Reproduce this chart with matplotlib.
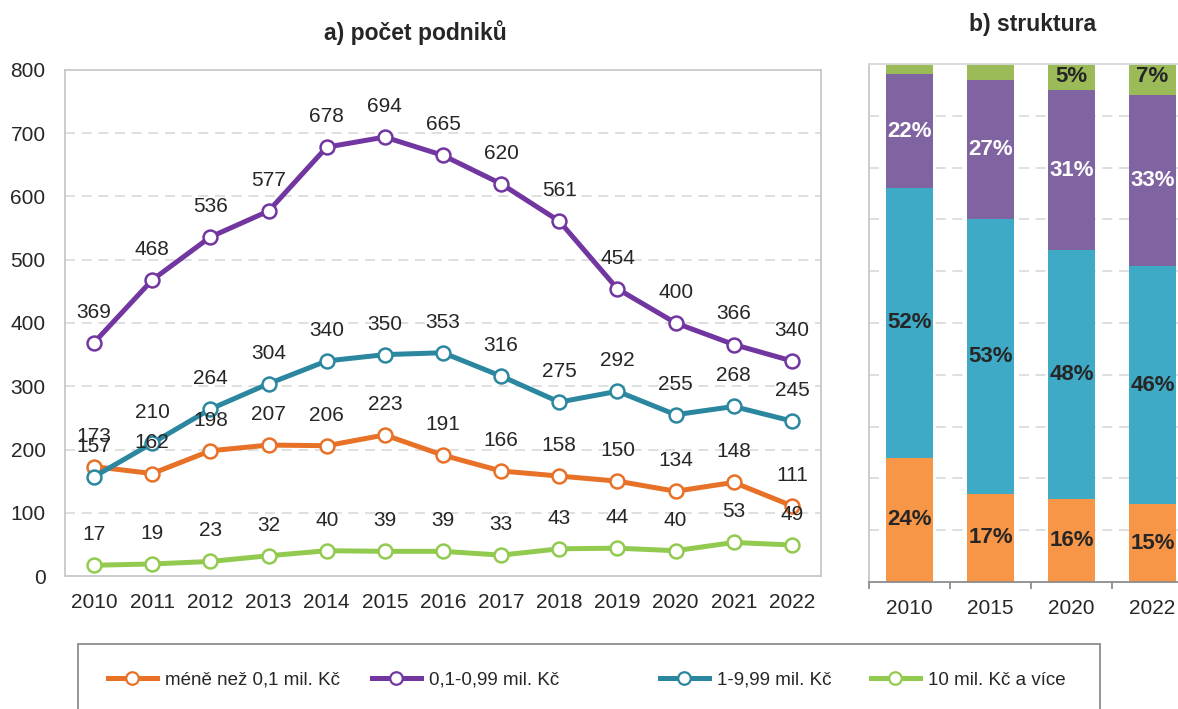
import matplotlib
matplotlib.use("Agg")
import matplotlib.pyplot as plt
from matplotlib.patches import Rectangle
from matplotlib.lines import Line2D

plt.rcParams['font.family'] = ['Liberation Sans', 'DejaVu Sans']

years = [2010, 2011, 2012, 2013, 2014, 2015, 2016, 2017, 2018, 2019, 2020, 2021, 2022]
series_names = ["méně než 0,1 mil. Kč", "0,1-0,99 mil. Kč", "1-9,99 mil. Kč", "10 mil. Kč a více"]
s_small = [173, 162, 198, 207, 206, 223, 191, 166, 158, 150, 134, 148, 111]
s_mid = [369, 468, 536, 577, 678, 694, 665, 620, 561, 454, 400, 366, 340]
s_big = [157, 210, 264, 304, 340, 350, 353, 316, 275, 292, 255, 268, 245]
s_large = [17, 19, 23, 32, 40, 39, 39, 33, 43, 44, 40, 53, 49]

struct_years = ["2010", "2015", "2020", "2022"]
p_small = [24, 17, 16, 15]
p_mid_low = [52, 53, 48, 46]
p_mid = [22, 27, 31, 33]
p_large = [2, 3, 5, 7]
p_labels_large = ["", "", "5%", "7%"]

line_colors = ["#E87128", "#7236A0", "#2B879F", "#92CA50"]
bar_colors = ["#F79646", "#3FAAC6", "#8064A2", "#9BBB59"]
txt = "#262626"

W, H = 1178, 709
fig = plt.figure(figsize=(W / 100, H / 100), dpi=100)

def fx(px):
    return px / W

def fy(py):
    return 1 - py / H

FS = 15

# ---- left panel
ax = fig.add_axes([fx(65), fy(576), fx(821) - fx(65), fy(70) - fy(576)])
x = list(range(len(years)))
for vals, c in zip([s_small, s_mid, s_big, s_large], line_colors):
    ax.plot(x, vals, color=c, lw=3.6, marker='o', ms=10, mfc='white', mec=c, mew=1.8, zorder=3)
    for xi, v in zip(x, vals):
        ax.annotate(str(v), (xi, v), xytext=(0, 22), textcoords='offset points',
                    ha='center', va='center', fontsize=FS, color=txt, zorder=4)
ax.set_xlim(-0.5, len(years) - 0.5)
ax.set_ylim(0, 800)
ax.set_yticks(range(0, 801, 100))
ax.set_xticks(x)
ax.set_xticklabels([str(y) for y in years])
ax.tick_params(axis='both', length=0, labelsize=FS, colors=txt)
ax.tick_params(axis='x', pad=12)
ax.tick_params(axis='y', pad=14)
for sp in ax.spines.values():
    sp.set_color('#C8C8CC')
    sp.set_linewidth(1.3)
for yv in range(100, 800, 100):
    ax.axhline(yv, color='#D9D9D9', lw=1.2, ls=(0, (6, 4)), zorder=1)
fig.text(fx(415), fy(33), "a) počet podniků", ha='center', va='center', fontsize=16.5,
         fontweight='bold', color=txt)

# ---- right panel
ax2 = fig.add_axes([fx(869), fy(582), fx(869 + 324) - fx(869), fy(64) - fy(582)])
xb = list(range(len(struct_years)))
bw = 0.59
bottoms = [0] * 4
segs = [p_small, p_mid_low, p_mid, p_large]
for i, (vals, c) in enumerate(zip(segs, bar_colors)):
    ax2.bar(xb, vals, bw, bottom=bottoms, color=c, zorder=2)
    for j, (b, v) in enumerate(zip(bottoms, vals)):
        lab = p_labels_large[j] if i == 3 else f"{v}%"
        if lab:
            col = 'white' if i == 2 else txt
            ax2.text(j, b + v / 2, lab, ha='center', va='center', fontsize=16,
                     fontweight='bold', color=col, zorder=3)
    bottoms = [b + v for b, v in zip(bottoms, vals)]
ax2.set_xlim(-0.5, 3.5)
ax2.set_ylim(0, 100)
ax2.set_yticks([])
ax2.set_xticks(xb)
ax2.set_xticklabels(struct_years)
ax2.set_xticks([-0.5, 0.5, 1.5, 2.5, 3.5], minor=True)
ax2.tick_params(axis='x', which='major', length=0, labelsize=FS, colors=txt, pad=12)
ax2.tick_params(axis='x', which='minor', length=5, color='#8C8C8C', width=1.3)
for yv in range(10, 100, 10):
    ax2.axhline(yv, color='#D9D9D9', lw=1.2, ls=(0, (6, 4)), zorder=1)
ax2.spines['right'].set_visible(False)
ax2.spines['left'].set_color('#C8C8CC')
ax2.spines['top'].set_color('#D9D9D9')
ax2.spines['bottom'].set_color('#8C8C8C')
for sp in ax2.spines.values():
    sp.set_linewidth(1.3)
fig.text(fx(1033), fy(25), "b) struktura", ha='center', va='center', fontsize=16.5,
         fontweight='bold', color=txt)

# ---- legend
fig.patches.append(Rectangle((fx(78), fy(715)), fx(1100) - fx(78), fy(644) - fy(715),
                             transform=fig.transFigure, fill=False, ec='#8C8C8C', lw=1.3))
legend_x = [108, 372, 660, 871]
for name, c, lx in zip(series_names, line_colors, legend_x):
    h = Line2D([], [], color=c, lw=3.6, marker='o', ms=9, mfc='white', mec=c, mew=1.6)
    fig.legend([h], [name], loc='center left', bbox_to_anchor=(fx(lx), fy(680)),
               frameon=False, fontsize=13.5, handlelength=2.6, handletextpad=0.45,
               borderpad=0, borderaxespad=0, labelcolor=txt)

fig.savefig("out.png", dpi=100)
